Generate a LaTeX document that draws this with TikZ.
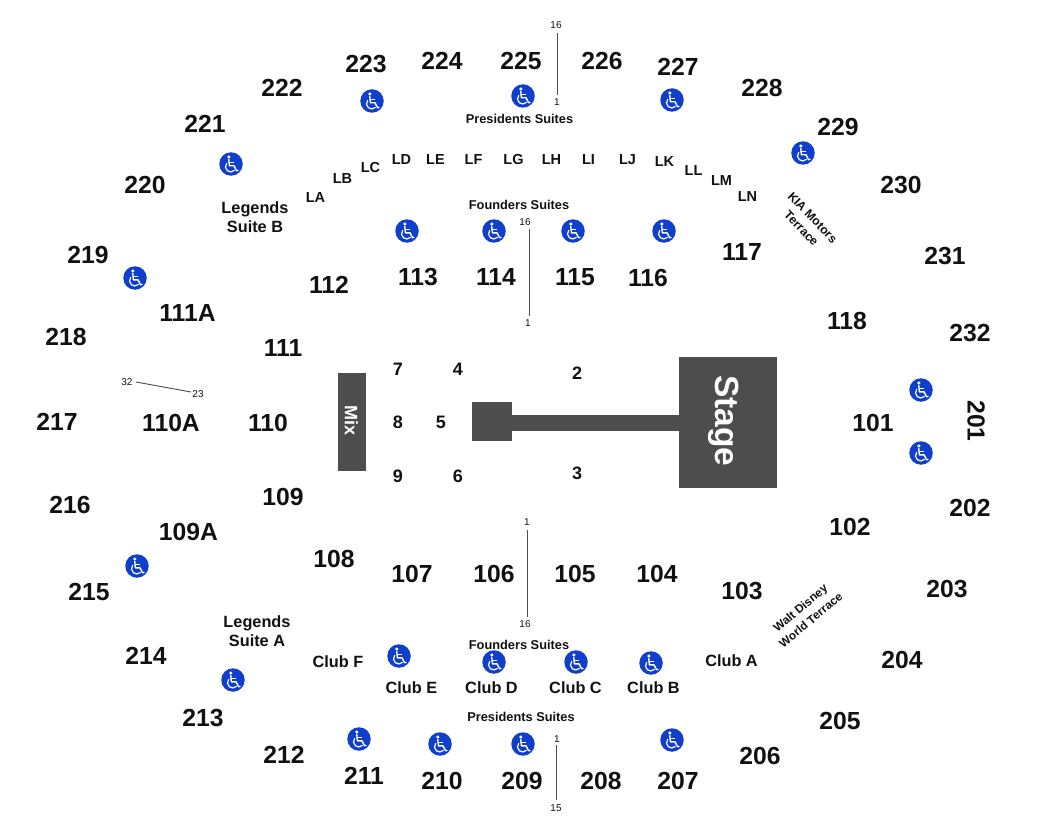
\documentclass[tikz,border=0pt]{standalone}
\usepackage{fontspec}
\setmainfont{Liberation Sans}
\usepackage{tikz}
\usetikzlibrary{positioning}
\definecolor{stagegray}{HTML}{4D4D4D}
\definecolor{accessblue}{HTML}{0F3FCB}
\definecolor{labelblack}{HTML}{111111}
\newcommand{\lbl}[2]{\fontsize{#1}{#2}\selectfont\bfseries}
\tikzset{
  section/.style={font=\lbl{24.7}{26},text=labelblack,inner sep=0pt},
  floorsec/.style={font=\lbl{18}{20},text=labelblack,inner sep=0pt},
  suite/.style={font=\lbl{14.5}{16},text=labelblack,inner sep=0pt},
  club/.style={font=\lbl{16.3}{19},text=labelblack,inner sep=0pt,align=center},
  caption/.style={font=\lbl{12.8}{15},text=labelblack,inner sep=0pt},
  terrace/.style={font=\lbl{12.2}{15.5},text=labelblack,inner sep=0pt,align=center},
  terracesm/.style={font=\lbl{11.8}{16},text=labelblack,inner sep=0pt,align=center},
  seatnum/.style={font=\fontsize{10}{12}\selectfont,text=labelblack,inner sep=1pt},
  seatline/.style={draw=stagegray,line width=0.9pt},
  block/.style={fill=stagegray,draw=none,inner sep=0pt},
  access/.style={circle,fill=accessblue,minimum size=23.5pt,inner sep=0pt},
  wheelchair/.pic={
    \fill[white] (-2.2,-7) circle (1.7);
    \draw[white,line width=1.4pt,line join=round,line cap=round]
      (-2.2,-4.4) -- (-1.6,1.8) -- (3,1.8) -- (5.6,6.8) -- (7,6.4);
    \draw[white,line width=1.2pt,line cap=round] (-2,-1.6) -- (2.6,-1.6);
    \draw[white,line width=1.2pt,line cap=round]
      (-4.3,-0.6) arc[start angle=140,end angle=315,radius=5.2pt];
  }
}

\begin{document}
\begin{tikzpicture}[x=1pt,y=-1pt]
  \useasboundingbox (0,0) rectangle (1050,840);

  % stage and mix
  \node[block,minimum width=98pt,minimum height=131pt] (stage) at (728,422.5) {};
  \node[block,minimum width=167pt,minimum height=16pt] (runway) at (595.5,423) {};
  \node[block,minimum width=40pt,minimum height=39pt] (thrust) at (492,421.5) {};
  \node[block,minimum width=28pt,minimum height=98pt] (mix) at (352,422) {};
  \node[rotate=-90,text=white,font=\lbl{33.5}{36}] (stagetxt) at (724,421) {Stage};
  \node[rotate=-90,text=white,font=\lbl{18}{20}] (mixtxt) at (351.5,421) {Mix};

  % upper level
  \foreach \n/\x/\y in {223/366/64.5,224/442/60.5,225/521/60.5,226/602/60.5,227/678/66.5,228/762/87.5,
      229/838/126.5,230/901/185.5,231/945/256.5,232/970/333.5,202/970/507.5,203/947/589.5,204/902/659.5,
      205/840/720.5,206/760/755.5,207/678/780.5,208/601/780.5,209/522/780.5,210/442/780.5,211/364/775.5,
      212/284/754.5,213/203/718.5,214/146/655.5,215/89/591.5,216/70/504.5,217/57/421.5,218/66/336.5,
      219/88/254.5,220/145/184.5,221/205/123.5,222/282/87.5}
    \node[section] (sec\n) at (\x,\y) {\n};
  \node[section,rotate=-90] (sec201) at (976,421) {201};

  % lower level
  \foreach \n/\x/\y in {111A/187.5/313.5,110A/171/422.5,109A/188.5/531.5,112/329/284.5,111/283/348.5,
      110/268/422.5,109/283/496.5,108/334/558.5,107/412/573.5,106/494/573.5,105/575/573.5,104/657/573.5,
      103/742/591.5,102/850/526.5,101/873/422.5,118/847/320.5,117/742/252.5,116/648/277.5,115/575/277.5,
      114/496/277.5,113/418/277.5}
    \node[section] (sec\n) at (\x,\y) {\n};

  % floor
  \foreach \n/\x/\y in {7/398/369.5,4/458/369.5,2/577/373.5,8/398/422.5,5/441/422.5,9/398/476.5,6/458/476.5,3/577/473.5}
    \node[floorsec] (flr\n) at (\x,\y) {\n};

  % suites
  \foreach \n/\x/\y in {LA/315.5/198,LB/342.5/179,LC/370.5/167.5,LD/401.5/160,LE/435.5/160,LF/473.5/160,LG/513.5/160,
      LH/551.5/160,LI/588.5/160,LJ/627.5/160,LK/664.5/162,LL/693.5/171,LM/721.5/181,LN/747.5/197}
    \node[suite] (st\n) at (\x,\y) {\n};

  \node[caption] (presT) at (519.5,119) {Presidents Suites};
  \node[caption] (foundT) at (519,205) {Founders Suites};
  \node[caption] (foundB) at (519,645) {Founders Suites};
  \node[caption] (presB) at (521,717) {Presidents Suites};
  \node[club] (legB) at (255,217) {Legends\\Suite B};
  \node[club] (legA) at (257,631) {Legends\\Suite A};
  \foreach \n/\x/\y in {F/338/662,E/411.5/688,D/491.5/688,C/575.5/688,B/653.5/688,A/731.5/661}
    \node[club] (club\n) at (\x,\y) {Club \n};
  \node[terrace,rotate=-46] (kia) at (807,223) {KIA Motors\\Terrace};
  \node[terracesm,rotate=40] (disney) at (805.5,614) {Walt Disney\\World Terrace};

  % wheelchair spots
  \foreach \i/\x/\y in {1/372/101,2/523/96,3/672/100,4/803/153,5/231/164,6/135/278,7/407/231,8/494/231,
      9/573/231,10/664/231,11/921/390,12/921/453,13/137/566,14/233/680,15/399/656,16/494/662,
      17/576/662,18/651/663,19/359/739,20/440/744,21/523/744,22/672/740}
  {
    \node[access] (wc\i) at (\x,\y) {};
    \pic at (wc\i) {wheelchair};
  }

  % seat rows
  \node[seatnum] (topA) at (556,25.5) {16};
  \node[seatnum] (topB) at (557,102.5) {1};
  \node[seatnum] (fndA) at (525,222.5) {16};
  \node[seatnum] (fndB) at (528,323.5) {1};
  \node[seatnum] (fndC) at (527,522.5) {1};
  \node[seatnum] (fndD) at (525,624.5) {16};
  \node[seatnum] (botA) at (557,739.5) {1};
  \node[seatnum] (botB) at (556,808.5) {15};
  \node[seatnum] (sideA) at (127,382.5) {32};
  \node[seatnum] (sideB) at (198,394.5) {23};
  \coordinate (topAe) at (557.5,33);
  \coordinate (topBe) at (557.5,95);
  \coordinate (fndAe) at (529.5,229);
  \coordinate (fndBe) at (529.5,316);
  \coordinate (fndCe) at (527.5,530);
  \coordinate (fndDe) at (527.5,617);
  \coordinate (botAe) at (556.5,745);
  \coordinate (botBe) at (556.5,800);
  \coordinate (sideAe) at (136,382);
  \coordinate (sideBe) at (191,392);
  \draw[seatline] (topAe) -- (topBe);
  \draw[seatline] (fndAe) -- (fndBe);
  \draw[seatline] (fndCe) -- (fndDe);
  \draw[seatline] (botAe) -- (botBe);
  \draw[seatline] (sideAe) -- (sideBe);
\end{tikzpicture}
\end{document}
